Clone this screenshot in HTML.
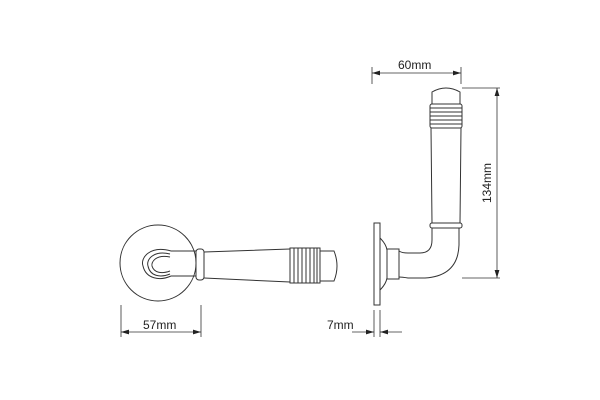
<!DOCTYPE html>
<html><head><style>body{margin:0;background:#fff}svg{display:block}</style></head><body>
<svg width="600" height="400" viewBox="0 0 600 400" xmlns="http://www.w3.org/2000/svg">
<defs><marker id="a" viewBox="0 0 10 6" refX="10" refY="3" markerWidth="10" markerHeight="6" orient="auto-start-reverse"><path d="M0,0L10,3L0,6z" fill="#222"/></marker></defs>
<g fill="none" stroke="#333" stroke-width="1">
<circle cx="158" cy="263" r="38"/>
<path d="M171,251 C150,245 140,258 143,266 C146,279 160,281 171,276"/>
<path d="M170,254 C153,250 146,260 148,266 C150,276 160,278 170,274"/>
<path d="M170,257 C156,254 151,262 152,266 C154,273 162,274 170,271"/>
<path d="M171,251 L196,251 M171,276 L196,276"/>
<rect x="196" y="249" width="8" height="31" rx="3"/>
<path d="M204,252 L290,249 M204,278 L290,282"/>
<rect x="290" y="248" width="30" height="35"/>
<path d="M294,248V283M298,248V283M302,248V283M306,248V283M310,248V283M314,248V283M317,248V283"/>
<path d="M320,251 L334,251 Q340,266 334,281 L320,281"/>
<rect x="374" y="223" width="6" height="82"/>
<path d="M380,238 Q386,244 387,250 L387,278 Q386,284 380,290"/>
<rect x="387" y="249" width="12" height="30"/>
<path d="M399,251 Q402,253 408,253 L420,253 Q432,253 432,240 L432,228"/>
<path d="M399,277 Q402,277 408,278 L425,278 Q458,276 459,245 L459,228"/>
<rect x="430" y="223" width="32" height="5" rx="2"/>
<path d="M432,223 L431,128 M460,223 L461,128"/>
<rect x="430" y="104" width="32" height="24" rx="2"/>
<path d="M430,108H462M430,112H462M430,116H462M430,120H462M430,124H462"/>
<path d="M432,104 L432,92 Q446,84 460,92 L460,104"/>
</g>
<g stroke="#333" stroke-width="0.8" fill="none">
<path d="M372,67V84 M461,67V84"/>
<line x1="372" y1="73" x2="461" y2="73" marker-start="url(#a)" marker-end="url(#a)"/>
<path d="M462,88H500 M462,278H500"/>
<line x1="497" y1="88" x2="497" y2="278" marker-start="url(#a)" marker-end="url(#a)"/>
<path d="M121,305V337 M201,305V337"/>
<line x1="121" y1="332" x2="201" y2="332" marker-start="url(#a)" marker-end="url(#a)"/>
<path d="M374,310V337 M380,310V337"/>
<line x1="352" y1="332" x2="374" y2="332" marker-end="url(#a)"/>
<line x1="402" y1="332" x2="380" y2="332" marker-end="url(#a)"/>
</g>
<g font-family="Liberation Sans, sans-serif" font-size="12" fill="#222">
<text x="398" y="69">60mm</text>
<text x="143" y="329">57mm</text>
<text x="327" y="329">7mm</text>
<text transform="translate(491,183) rotate(-90)" text-anchor="middle">134mm</text>
</g>
</svg>
</body></html>
